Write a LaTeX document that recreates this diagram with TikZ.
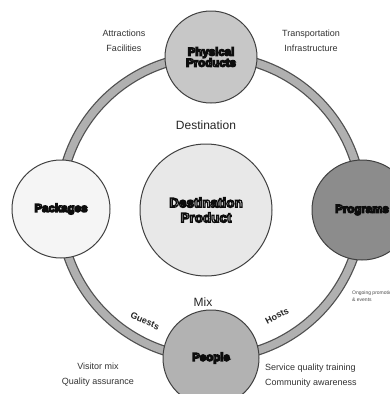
\documentclass[tikz,border=0pt]{standalone}
\usepackage{fontspec}
\setmainfont{Liberation Sans}
\newcommand\outlinetext[1]{\special{pdf:literal direct 2 Tr 1.3 w 0.05 0.05 0.05 RG}#1\special{pdf:literal direct 0 Tr}}
\definecolor{ringfill}{HTML}{B0B0B0}
\definecolor{ringedge}{HTML}{505050}
\definecolor{edgec}{HTML}{404040}
\tikzset{
  circ/.style={circle, draw=edgec, line width=1pt, inner sep=0pt, align=center, text=white,
    font=\fontsize{11.5}{12}\selectfont\bfseries},
  lab/.style={align=center, font=\fontsize{9}{15}\selectfont, text=black!80, inner sep=0pt},
  biglab/.style={font=\fontsize{12}{13}\selectfont, text=black!85, inner sep=0pt},
  ringlab/.style={font=\fontsize{9}{10}\selectfont\bfseries, text=black!85, inner sep=0pt}
}
\begin{document}
\begin{tikzpicture}[x=1pt,y=-1pt]
\useasboundingbox (0,0) rectangle (390,394);
\clip (0,0) rectangle (390,394);
\fill[white] (0,0) rectangle (390,394);
\coordinate (c) at (211,207);
% ring
\draw[ringedge, line width=10pt] (c) circle[radius=151];
\draw[ringfill, line width=7.5pt] (c) circle[radius=151];
% circles
\node[circ, fill=black!22, minimum size=92pt] (phys) at (211,57)
  {\outlinetext{Physical}\\[-1pt]\outlinetext{Products}};
\node[circ, fill=black!4, minimum size=98pt] (pack) at (61,209)
  {\outlinetext{Packages}};
\node[circ, fill=black!9, minimum size=132pt, font=\fontsize{13.5}{15}\selectfont\bfseries] (dp) at (206,210)
  {\outlinetext{Destination}\\\outlinetext{Product}};
\node[circ, fill=black!45, minimum size=100pt] (prog) at (362,210)
  {\outlinetext{Programs}};
\node[circ, fill=black!30, minimum size=96pt] (people) at (211,358)
  {\outlinetext{People}};
% labels
\node[lab] (attr) at (124,41) {Attractions\\Facilities};
\node[lab] (trans) at (311,41) {Transportation\\Infrastructure};
\node[biglab] (dest) at (206,125) {Destination};
\node[biglab] (mix) at (203,302) {Mix};
\node[ringlab, rotate=-24] (guests) at (145,321) {Guests};
\node[ringlab, rotate=28] (hosts) at (277,316) {Hosts};
\node[lab] (visitor) at (98,375) {Visitor mix\\Quality assurance};
\node[lab, anchor=west, align=left] (service) at (265,376) {Service quality training\\Community awareness};
\node[anchor=west, align=left, inner sep=0pt, font=\fontsize{5}{7}\selectfont, text=black!70] (ongoing) at (352,296) {Ongoing promotions\\\& events};
\end{tikzpicture}
\end{document}
